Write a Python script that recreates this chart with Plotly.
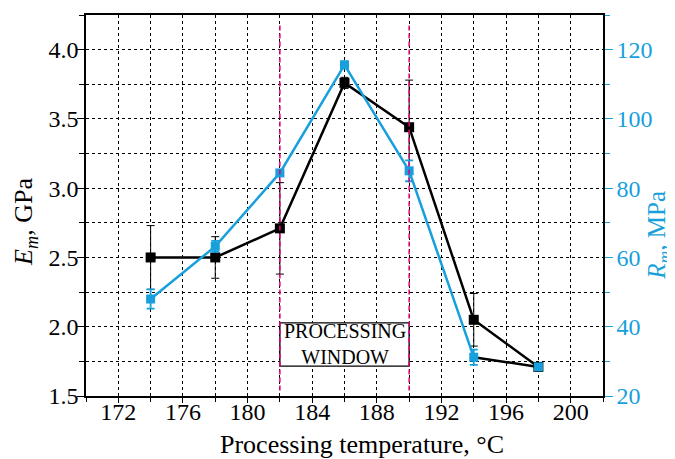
import plotly.graph_objects as go

temps = [174, 178, 182, 186, 190, 194, 198]
E_m = [2.50, 2.50, 2.71, 3.76, 3.44, 2.05, 1.71]
E_err = [0.23, 0.15, 0.33, 0.04, 0.34, 0.19, 0.03]
R_m = [48.0, 63.2, 84.4, 115.6, 85.0, 31.2, 28.4]
R_err = [2.8, 1.6, 0.8, 1.0, 3.0, 2.2, 0.8]
window = [182, 190]
window_label = "PROCESSING<br>WINDOW"
x_title = "Processing temperature, °C"
y_title = "<i>E<sub>m</sub></i>, GPa"
y2_title = "<i>R<sub>m</sub></i>, MPa"

BLUE = "#17a0dc"
PINK = "#e6007e"
FONT = "Liberation Serif"

fig = go.Figure()

# Processing window box
fig.add_shape(type="rect", x0=window[0], x1=window[1], y0=1.716, y1=2.028,
              xref="x", yref="y", line=dict(color="black", width=1.3),
              fillcolor="white", layer="above")
fig.add_annotation(x=sum(window) / 2, y=1.872, xref="x", yref="y",
                   text=window_label, showarrow=False,
                   font=dict(family=FONT, size=20, color="black"))

for xv in window:
    fig.add_shape(type="line", x0=xv, x1=xv, y0=1.54, y1=4.18, xref="x", yref="y",
                  line=dict(color=PINK, width=1.5, dash="5px,3px"), layer="above")

fig.add_trace(go.Scatter(
    x=temps, y=E_m, mode="lines+markers", yaxis="y",
    line=dict(color="black", width=2.5),
    marker=dict(symbol="square", size=10, color="black"),
    error_y=dict(type="data", array=E_err, color="black", thickness=1, width=4),
    showlegend=False))

fig.add_trace(go.Scatter(
    x=temps[:-1], y=R_m[:-1], mode="lines", yaxis="y2",
    line=dict(color=BLUE, width=2.5), showlegend=False))
fig.add_trace(go.Scatter(
    x=temps[-2:], y=R_m[-2:], mode="lines", yaxis="y2",
    line=dict(color="black", width=2.5), showlegend=False))
fig.add_trace(go.Scatter(
    x=temps, y=R_m, mode="markers", yaxis="y2",
    marker=dict(symbol="square", size=9, color=BLUE),
    error_y=dict(type="data", array=R_err, color=BLUE, thickness=1.8, width=4),
    showlegend=False))

# Axis titles as annotations for precise placement
fig.add_annotation(x=0.533, y=-0.128, xref="paper", yref="paper", text=x_title,
                   xanchor="center", yanchor="middle",
                   showarrow=False, font=dict(family=FONT, size=26, color="black"))
fig.add_annotation(x=-0.118, y=0.457, xref="paper", yref="paper", text=y_title,
                   xanchor="center", yanchor="middle",
                   textangle=-90, showarrow=False,
                   font=dict(family=FONT, size=26, color="black"))
fig.add_annotation(x=1.108, y=0.423, xref="paper", yref="paper", text=y2_title,
                   xanchor="center", yanchor="middle",
                   textangle=-90, showarrow=False,
                   font=dict(family=FONT, size=25, color=BLUE))

# page body has an 8px margin, so the figure is 8px smaller and margins shifted
fig.update_layout(
    width=667, height=451,
    margin=dict(l=78, r=72, t=7, b=63, autoexpand=False),
    plot_bgcolor="white", paper_bgcolor="white",
    font=dict(family=FONT, size=24, color="black"),
    xaxis=dict(range=[170, 202], tick0=172, dtick=4, showgrid=True,
               gridcolor="black", griddash="dot", gridwidth=1,
               showline=True, linecolor="black", linewidth=1.5, mirror=True,
               ticks="outside", ticklen=5, tickcolor="black",
               ticklabelstandoff=-12,
               minor=dict(dtick=2, tick0=170, showgrid=True, gridcolor="black",
                          griddash="dot", gridwidth=1, ticks="outside", ticklen=4,
                          tickcolor="black"),
               zeroline=False, automargin=False),
    yaxis=dict(range=[1.5, 4.25], tick0=1.5, dtick=0.5, tickformat=".1f",
               showgrid=True, gridcolor="black", griddash="dot", gridwidth=1,
               showline=True, linecolor="black", linewidth=1.5,
               ticks="outside", ticklen=7, tickcolor="black",
               ticklabelstandoff=-6,
               minor=dict(dtick=0.25, showgrid=True, gridcolor="black",
                          griddash="dot", gridwidth=1, ticks="outside", ticklen=5,
                          tickcolor="black"),
               zeroline=False, automargin=False),
    yaxis2=dict(range=[20, 130], tick0=20, dtick=20, overlaying="y", side="right",
                showgrid=False, showline=True, linecolor="black", linewidth=1.5,
                ticks="outside", ticklen=8, tickcolor=BLUE,
                tickfont=dict(color=BLUE), ticklabelstandoff=-1,
                minor=dict(dtick=10, ticks="outside", ticklen=5, tickcolor=BLUE),
                zeroline=False, automargin=False),
)

fig.write_html("out.html")
